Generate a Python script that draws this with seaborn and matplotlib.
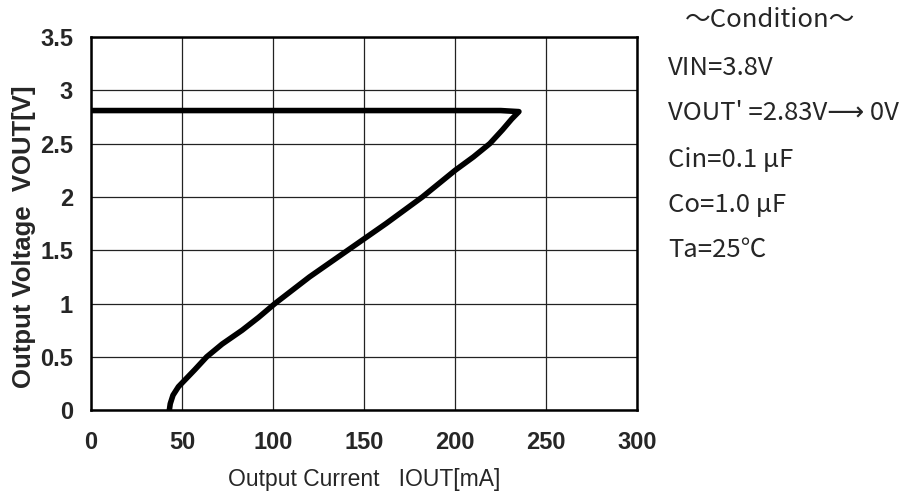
import matplotlib
matplotlib.use('Agg')
import matplotlib.pyplot as plt
import seaborn as sns
import pandas as pd

# output current vs output voltage (fold-back current limit)
iout = [0, 50, 100, 150, 200, 225, 235,
        231, 226, 219, 210, 200, 191, 182, 162, 141, 120, 101, 92, 83, 72,
        63.5, 57, 52.5, 48, 45, 43.5, 43]
vout = [2.81, 2.81, 2.81, 2.81, 2.81, 2.81, 2.80,
        2.73, 2.63, 2.50, 2.375, 2.25, 2.125, 2.00, 1.75, 1.50, 1.25, 1.00, 0.87, 0.75, 0.62,
        0.50, 0.38, 0.30, 0.22, 0.14, 0.06, 0.0]

conditions = ['～Condition～', 'VIN=3.8V', "VOUT' =2.83V⟶ 0V",
              'Cin=0.1 μF', 'Co=1.0 μF', 'Ta=25℃']

df = pd.DataFrame({'IOUT': iout, 'VOUT': vout})

sns.set_style('white')
plt.rcParams['font.family'] = ['Liberation Sans', 'DejaVu Sans']

fig = plt.figure(figsize=(9.15, 4.93), dpi=100)
ax = fig.add_axes([0.0995, 0.168, 0.597, 0.757])

sns.lineplot(data=df, x='IOUT', y='VOUT', sort=False, estimator=None,
             color='black', linewidth=4, ax=ax)

ax.set_xlim(0, 300)
ax.set_ylim(0, 3.5)
ax.set_xticks(range(0, 301, 50))
ax.set_yticks([0, 0.5, 1, 1.5, 2, 2.5, 3, 3.5])
ax.set_yticklabels(['0', '0.5', '1', '1.5', '2', '2.5', '3', '3.5'])
ax.grid(True, color='#222222', linewidth=0.9)
ax.tick_params(axis='x', length=0, labelsize=17, pad=15)
ax.tick_params(axis='y', length=0, labelsize=17, pad=13)
for lab in ax.get_xticklabels() + ax.get_yticklabels():
    lab.set_fontweight('bold')
for s in ax.spines.values():
    s.set_color('black')
    s.set_linewidth(1.8)

ax.set_xlabel('Output Current   IOUT[mA]', fontsize=16.5, labelpad=10)
ax.set_ylabel('Output Voltage  VOUT[V]', fontsize=18.5, fontweight='bold')
ax.yaxis.set_label_coords(-0.10, 0.466)

ys = [0.959, 0.862, 0.771, 0.675, 0.584, 0.493]
for i, (t, y) in enumerate(zip(conditions, ys)):
    x = 0.842 if i == 0 else 0.730
    ha = 'center' if i == 0 else 'left'
    fig.text(x, y, t, ha=ha, va='center', fontsize=18.5,
             family=['Noto Sans CJK JP', 'DejaVu Sans'])

fig.savefig('out.png', dpi=100)
